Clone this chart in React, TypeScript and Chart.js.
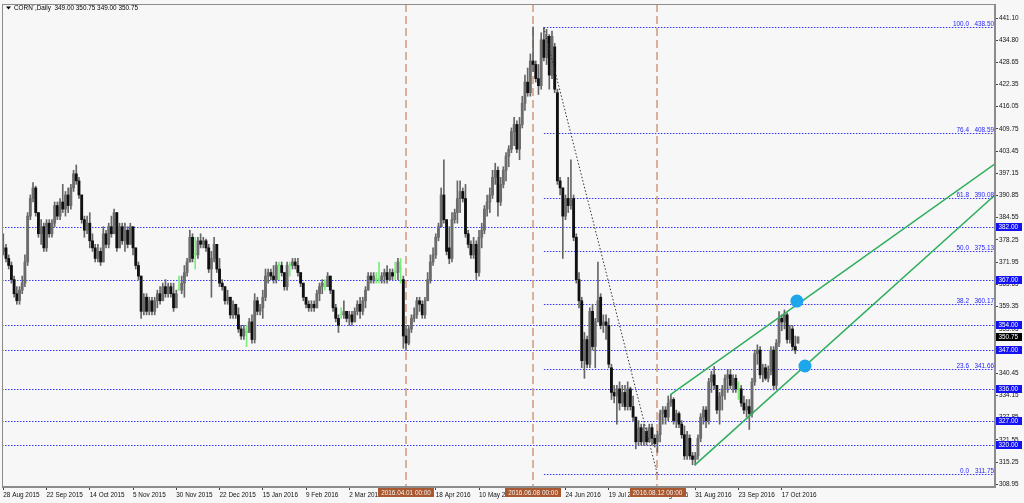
import React, { useEffect, useRef } from 'react';
import { Chart, registerables } from 'chart.js';

Chart.register(...registerables);

// ---------- DATA ----------
const openP = [
  375, 376, 373, 371, 367, 363, 361, 364, 366, 372, 385, 390, 393, 386, 380, 382, 376, 383, 380, 383,
  388, 385, 389, 387, 391, 388, 393, 397, 395, 391, 384, 381, 383, 378, 376, 373, 375, 372, 380, 377,
  382, 380, 386, 376, 382, 378, 381, 377, 382, 376, 371, 368, 358, 362, 358, 361, 358, 361, 363, 361,
  365, 363, 365, 363, 359, 364, 364, 366, 369, 372, 379, 374, 374, 378, 377, 378, 376, 370, 373, 377,
  370, 366, 365, 361, 362, 357, 360, 357, 353, 351, 352, 352, 355, 350, 361, 358, 359, 362, 368, 369,
  368, 367, 371, 371, 369, 365, 371, 371, 372, 371, 369, 366, 362, 360, 359, 360, 359, 363, 365, 365,
  365, 368, 364, 359, 356, 357, 357, 358, 356, 357, 355, 358, 360, 358, 361, 364, 368, 367, 367, 367,
  367, 368, 369, 367, 369, 369, 369, 370, 367, 351, 349, 353, 356, 357, 361, 360, 357, 361, 367, 372,
  374, 379, 382, 391, 384, 376, 373, 384, 386, 390, 392, 390, 380, 377, 374, 377, 369, 379, 381, 387,
  389, 391, 396, 398, 389, 394, 398, 402, 404, 409, 411, 404, 411, 417, 423, 420, 429, 428, 424, 422,
  435, 430, 436, 425, 433, 420, 395, 393, 385, 390, 388, 390, 379, 367, 361, 344, 350, 343, 358, 348,
  355, 362, 354, 355, 354, 342, 335, 334, 336, 332, 335, 331, 336, 331, 328, 321, 325, 321, 324, 321,
  325, 322, 321, 323, 329, 330, 328, 332, 333, 327, 329, 326, 323, 317, 322, 317, 316, 317, 322, 328,
  330, 327, 338, 340, 337, 330, 334, 336, 339, 340, 337, 339, 336, 336, 332, 330, 331, 329, 338, 346,
  347, 340, 342, 339, 341, 347, 337, 349, 356, 355, 357, 350, 353, 348, 349,
];
const highP = [
  380, 377, 374, 372, 368, 365, 365, 368, 374, 386, 391, 394.5, 393.5, 386, 384, 383, 384, 384, 384, 389,
  389, 390, 394, 392, 393, 394, 398, 399.5, 396, 391, 385, 385, 386, 380, 377, 377, 376, 382, 381, 383,
  385, 387, 386, 383, 383, 383, 382, 383, 382, 376, 372, 368, 363, 363, 362, 362, 362, 364, 365, 366,
  367, 366, 366, 366, 364, 368, 368, 371, 373, 381, 380, 379, 379, 380, 379, 378.5, 377, 375, 379, 377,
  373, 367, 365, 364, 362, 361, 360, 359, 354, 354, 354, 356, 357, 363, 362, 360, 364, 370, 370, 370,
  371, 372, 372, 372, 369, 372, 372, 373, 373, 373, 369, 366, 362, 361, 361, 361, 364, 366, 367, 367,
  369, 368, 364, 360, 357, 359, 361, 358, 358, 358, 359, 361, 362, 362, 365, 369, 369, 369, 369, 372,
  369, 370, 371, 370, 370, 372, 373, 373, 368, 354, 354, 357, 359, 362, 362, 361, 362, 369, 374, 376,
  380, 383, 393, 401, 384, 382, 386, 387, 395, 395, 393, 394, 381, 378, 379, 378, 381, 383, 388, 391,
  393, 398, 400, 399, 396, 399, 403, 405, 410, 413, 412, 413, 419, 425, 427, 431, 438.7, 429, 428, 437,
  438.5, 438, 436.5, 437.5, 434, 421, 396, 393, 391, 396, 401, 391, 380, 369, 362, 352, 351, 359, 360, 356,
  372, 363, 357, 357, 356, 343, 337, 337, 338, 337, 337, 338, 336.5, 334, 328, 327, 326, 326, 325, 326,
  326, 323, 324, 330, 331, 331, 334, 334.3, 333.5, 330, 329.5, 327, 325.5, 324, 323, 318, 318, 323, 329, 331,
  331, 339, 341, 342.3, 337, 335, 337, 340, 341.5, 341.5, 340, 340, 338, 337, 334, 333, 333, 339, 347, 348.5,
  348, 343, 343, 342.5, 348, 348, 350, 357.9, 357, 358.4, 357.5, 354, 354, 351, 350.75,
];
const lowP = [
  374, 372, 370, 366, 362, 360, 360, 363, 365, 371, 384, 389, 385, 379, 377, 375, 375, 379, 379, 382,
  384, 384, 386, 385, 386, 387, 392, 394, 390, 383, 379, 380, 376, 375, 372, 372, 371, 372, 376, 376,
  379, 380, 375, 376, 377, 375, 376, 377, 374, 370, 367, 356, 357, 357, 357, 357, 357, 359, 360, 361,
  362, 362, 362, 358, 359, 364, 363, 362, 368, 372, 372, 370, 373, 376, 376, 375, 369, 362, 372, 369,
  365, 364, 360, 360, 356, 356, 356, 352, 350, 350, 348, 352, 349, 349, 357, 357, 356, 361, 366, 367,
  366, 366, 367, 368, 364, 364, 368, 370, 370, 368, 365, 361, 359, 358, 358, 358, 359, 361, 363, 364,
  365, 363, 358, 355, 352, 356, 356, 355, 354, 354, 355, 357, 356, 357, 359, 364, 366, 366, 366, 366,
  366, 366, 366, 367, 367, 367, 367, 366, 347.5, 347, 348.5, 352, 355, 356, 358, 356, 356, 361, 366, 371,
  373, 378, 382, 383, 374, 371.5, 372, 383, 383, 386, 389, 379, 376, 373, 373, 367, 368, 376, 380, 385,
  386, 390, 394, 385, 388, 393, 395, 399, 403, 405, 403, 401, 410, 415, 419, 419, 426, 423, 419.5, 421,
  429, 428, 421, 424, 420, 394, 391, 373, 384, 386, 387, 378, 366, 359, 342, 339, 342, 342, 347, 342,
  355, 353, 352, 350, 342, 333, 332, 326, 330, 331, 330, 330, 330, 327, 319, 320, 320, 320, 320, 321,
  320, 319.5, 318, 321, 326, 326, 327, 331, 326, 325, 325, 322, 316, 316, 316, 314.5, 314.4, 316, 321, 326,
  325, 326, 335, 336, 329, 326, 330, 333, 335, 336, 335, 335, 333, 331, 329, 328, 324.5, 328, 337, 343,
  339, 338, 338.5, 338, 340, 335.7, 336, 348, 352.5, 353, 349, 349, 347, 346, 349,
];
const closeP = [
  376, 373, 371, 367, 363, 361, 364, 366, 372, 385, 390, 393, 386, 380, 382, 376, 383, 380, 383, 388,
  385, 389, 387, 391, 388, 393, 397, 395, 391, 384, 381, 383, 378, 376, 373, 375, 372, 380, 377, 382,
  380, 386, 376, 382, 378, 381, 377, 382, 376, 371, 368, 358, 362, 358, 361, 358, 361, 363, 361, 365,
  363, 365, 363, 359, 363, 364, 366, 369, 372, 379, 373, 374, 378, 377, 378, 376, 370, 373, 377, 370,
  366, 365, 361, 362, 357, 360, 357, 353, 351, 353, 352, 355, 350, 361, 358, 359, 362, 368, 369, 368,
  367, 371, 371, 369, 365, 371, 371, 372, 371, 369, 366, 362, 360, 359, 360, 359, 363, 365, 366, 365,
  368, 364, 359, 356, 354, 357, 358, 356, 357, 355, 358, 360, 358, 361, 364, 368, 367, 368, 367, 367,
  368, 369, 367, 369, 368, 369, 372, 370, 351, 349, 353, 356, 357, 361, 360, 357, 361, 367, 372, 374,
  379, 382, 391, 384, 375, 373, 384, 386, 390, 392, 390, 380, 377, 374, 377, 369, 379, 381, 387, 389,
  391, 396, 398, 389, 394, 398, 402, 404, 409, 411, 404, 411, 417, 423, 420, 429, 428, 424, 422, 435,
  430, 436, 425, 436, 421, 395, 393, 385, 390, 388, 389.5, 379, 367, 361, 344, 350, 343, 358, 348, 355,
  361, 354, 355, 354, 343, 335, 334, 336, 332, 335, 331, 336, 331, 328, 321, 325, 321, 324, 321, 325,
  322, 320.5, 323, 329, 330, 328, 332, 333, 327, 329, 326, 323, 317, 323, 317, 316, 317, 322, 328, 330,
  327, 338, 340, 337, 330, 334, 336, 339, 340, 337, 339, 336, 336, 332, 330, 331, 329, 338, 346, 347,
  340, 342, 339, 341, 347, 337, 349, 356, 355, 357, 350, 353, 348, 347, 350.75,
];

const xTickBars = [0, 16, 32, 48, 64, 80, 96, 112, 128, 144, 160, 176, 192, 208, 224, 240, 256, 272, 288];
const xTickLabels = [
  '28 Aug 2015', '22 Sep 2015', '14 Oct 2015', '5 Nov 2015', '30 Nov 2015', '22 Dec 2015',
  '15 Jan 2016', '9 Feb 2016', '2 Mar 2016', '24 Mar 2016', '18 Apr 2016', '10 May 2016',
  '2 Jun 2016', '24 Jun 2016', '19 Jul 2016', '10 Aug 2016', '31 Aug 2016', '23 Sep 2016', '17 Oct 2016',
];
const yTickValues = [
  441.1, 434.8, 428.65, 422.35, 416.05, 409.75, 403.45, 397.15, 390.85, 384.55, 378.25,
  371.95, 365.65, 359.35, 353.05, 346.75, 340.45, 334.15, 327.85, 321.55, 315.25, 308.95,
];
const levelPrices = [382, 367, 354, 347, 336, 327, 320];
const fibRatios = ['100.0', '76.4', '61.8', '50.0', '38.2', '23.6', '0.0'];
const fibPrices = [438.5, 408.59, 390.08, 375.13, 360.17, 341.66, 311.75];
const fibStartBar = 200;
const fibTrendBars = [200, 242];
const fibTrendPrices = [438.5, 311.75];
const eventBars = [149, 196, 242];
const eventLabels = ['2016.04.01 00:00', '2016.06.08 00:00', '2016.08.12 00:00'];
const upperChannelBars = [246.7, 366.9];
const upperChannelPrices = [334.3, 399.8];
const lowerChannelBars = [255.8, 366.9];
const lowerChannelPrices = [314.4, 391.0];
const markerBars = [293.6, 296.6];
const markerPrices = [360.9, 342.5];
const lastPrice = 350.75;
const titleText = "CORN`,Daily  349.00 350.75 349.00 350.75";

const X_MIN = -0.48;
const X_MAX = 366.9;
const Y_MIN = 308.18;
const Y_MAX = 445.16;

// ---------- STYLE ----------
const FONT = "'Liberation Sans', Arial, sans-serif";
const FS = 6.4;
const BG = '#f7f7f7';
const BULL = '#6c6c6c';
const BEAR = '#101010';
const WICK = '#666666';
const DOJI = '#78ee78';
const LEVEL_BLUE = '#3434ff';
const EVENT_COLOR = 'rgba(205,145,120,0.95)';
const EVENT_BOX = '#a9582f';
const GREEN_LINE = '#2eae5c';
const MARKER = '#1ea6ea';

export default function App() {
  const ref = useRef<HTMLCanvasElement | null>(null);

  useEffect(() => {
    const canvas = ref.current;
    if (!canvas) return;
    const n = closeP.length;
    const idx = Array.from({ length: n }, (_, i) => i);
    const isDoji = (i: number) => openP[i] === closeP[i];

    const wickData = idx.map((i) => ({ x: i, y: [lowP[i], highP[i]] }));
    const bodyData = idx.map((i) => ({ x: i, y: [openP[i], closeP[i]] }));
    const wickColors = idx.map((i) => (isDoji(i) ? DOJI : WICK));
    const bodyColors = idx.map((i) => (isDoji(i) ? DOJI : closeP[i] > openP[i] ? BULL : BEAR));

    const lineBase = {
      type: 'line' as const,
      pointRadius: 0,
      fill: false,
      tension: 0,
    };

    const datasets: any[] = [];
    datasets.push({
      type: 'bar',
      data: wickData,
      backgroundColor: wickColors,
      barThickness: 1,
      grouped: false,
      order: 5,
    });
    datasets.push({
      type: 'bar',
      data: bodyData,
      backgroundColor: bodyColors,
      barThickness: 2.2,
      minBarLength: 1,
      grouped: false,
      order: 4,
    });
    datasets.push({
      ...lineBase,
      data: fibTrendBars.map((b, i) => ({ x: b, y: fibTrendPrices[i] })),
      borderColor: '#333',
      borderWidth: 1,
      borderDash: [1.5, 2],
      order: 3,
    });
    datasets.push({
      ...lineBase,
      data: upperChannelBars.map((b, i) => ({ x: b, y: upperChannelPrices[i] })),
      borderColor: GREEN_LINE,
      borderWidth: 1.5,
      order: 2,
    });
    datasets.push({
      ...lineBase,
      data: lowerChannelBars.map((b, i) => ({ x: b, y: lowerChannelPrices[i] })),
      borderColor: GREEN_LINE,
      borderWidth: 1.5,
      order: 2,
    });
    datasets.push({
      type: 'scatter',
      data: markerBars.map((b, i) => ({ x: b, y: markerPrices[i] })),
      backgroundColor: MARKER,
      borderColor: MARKER,
      pointRadius: 6.5,
      borderWidth: 0,
      showLine: false,
      order: 1,
    });

    const overlay = {
      id: 'mt4overlay',
      beforeDraw(chart: any) {
        const { ctx } = chart;
        ctx.save();
        ctx.fillStyle = BG;
        ctx.fillRect(0, 0, chart.width, chart.height);
        ctx.restore();
      },
      beforeDatasetsDraw(chart: any) {
        const { ctx, chartArea } = chart;
        const xs = chart.scales.x;
        const ys = chart.scales.y;
        ctx.save();
        ctx.beginPath();
        ctx.rect(chartArea.left, chartArea.top, chartArea.right - chartArea.left, chartArea.bottom - chartArea.top);
        ctx.clip();
        // horizontal support / resistance levels (pixel-snapped)
        ctx.strokeStyle = LEVEL_BLUE;
        ctx.lineWidth = 1;
        ctx.setLineDash([1.5, 1.5]);
        levelPrices.forEach((p) => {
          const yy = Math.round(ys.getPixelForValue(p)) + 0.5;
          ctx.beginPath();
          ctx.moveTo(xs.getPixelForValue(X_MIN), yy);
          ctx.lineTo(xs.getPixelForValue(X_MAX), yy);
          ctx.stroke();
        });
        fibPrices.forEach((p) => {
          const yy = Math.round(ys.getPixelForValue(p)) + 0.5;
          ctx.beginPath();
          ctx.moveTo(xs.getPixelForValue(fibStartBar), yy);
          ctx.lineTo(xs.getPixelForValue(X_MAX), yy);
          ctx.stroke();
        });
        // vertical event lines
        ctx.strokeStyle = EVENT_COLOR;
        ctx.lineWidth = 1.5;
        ctx.setLineDash([8, 4]);
        eventBars.forEach((b) => {
          const xx = Math.round(xs.getPixelForValue(b));
          ctx.beginPath();
          ctx.moveTo(xx, ys.getPixelForValue(Y_MAX));
          ctx.lineTo(xx, ys.getPixelForValue(Y_MIN));
          ctx.stroke();
        });
        ctx.restore();
      },
      afterDraw(chart: any) {
        const { ctx, chartArea } = chart;
        const xs = chart.scales.x;
        const ys = chart.scales.y;
        ctx.save();
        // frame
        ctx.strokeStyle = '#8c8c8c';
        ctx.lineWidth = 1;
        ctx.strokeRect(chartArea.left + 0.5, chartArea.top + 0.5, chartArea.right - chartArea.left - 1, chartArea.bottom - chartArea.top - 1);

        ctx.font = `${FS}px ${FONT}`;
        ctx.textBaseline = 'alphabetic';
        // fib labels
        fibPrices.forEach((p, i) => {
          const yy = Math.round(ys.getPixelForValue(p)) - 1;
          ctx.fillStyle = '#2626ff';
          ctx.textAlign = 'right';
          ctx.fillText(fibRatios[i], 969, yy);
          ctx.fillText(p.toFixed(2), 994, yy);
        });

        // axis level boxes
        ctx.textAlign = 'left';
        ctx.textBaseline = 'middle';
        levelPrices.forEach((p) => {
          const yy = Math.round(ys.getPixelForValue(p));
          ctx.fillStyle = '#1212f2';
          ctx.fillRect(996, yy - 4, 26, 8);
          ctx.fillStyle = '#ffffff';
          ctx.fillText(p.toFixed(2), 998.5, yy + 0.5);
        });
        {
          const yy = Math.round(ys.getPixelForValue(lastPrice));
          ctx.fillStyle = '#000000';
          ctx.fillRect(996, yy - 4, 26, 8);
          ctx.fillStyle = '#ffffff';
          ctx.fillText(lastPrice.toFixed(2), 998.5, yy + 0.5);
        }

        // event boxes on the time axis
        ctx.textAlign = 'center';
        eventBars.forEach((b, i) => {
          const xx = xs.getPixelForValue(b);
          const w = ctx.measureText(eventLabels[i]).width + 6;
          ctx.fillStyle = EVENT_BOX;
          ctx.fillRect(Math.round(xx - w / 2), 488, Math.round(w), 9);
          ctx.fillStyle = '#f4f4f4';
          ctx.fillText(eventLabels[i], xx, 493);
        });

        // title
        ctx.fillStyle = '#000';
        ctx.beginPath();
        ctx.moveTo(6, 6.5);
        ctx.lineTo(11, 6.5);
        ctx.lineTo(8.5, 9.5);
        ctx.closePath();
        ctx.fill();
        ctx.textAlign = 'left';
        ctx.fillText(titleText, 14, 8.5);
        ctx.restore();
      },
    };

    const chart = new Chart(canvas, {
      type: 'bar',
      data: { datasets },
      options: {
        animation: false,
        responsive: false,
        maintainAspectRatio: false,
        devicePixelRatio: 1,
        events: [],
        layout: { autoPadding: false, padding: { left: 2, top: 4, right: 0, bottom: 0 } },
        plugins: {
          legend: { display: false },
          tooltip: { enabled: false },
          title: { display: false },
        },
        scales: {
          x: {
            type: 'linear',
            min: X_MIN,
            max: X_MAX,
            offset: false,
            grid: { display: true, drawOnChartArea: false, drawTicks: true, tickLength: 3, color: '#444', offset: false },
            border: { display: true, color: '#8c8c8c' },
            ticks: {
              autoSkip: false,
              maxRotation: 0,
              minRotation: 0,
              align: 'start',
              padding: 1,
              color: '#111',
              font: { size: FS, family: FONT },
              callback: (_v: any, i: number) => xTickLabels[i] ?? '',
            },
            afterBuildTicks: (axis: any) => {
              axis.ticks = xTickBars.map((v) => ({ value: v }));
            },
            afterFit: (axis: any) => {
              axis.height = 16;
              axis.paddingLeft = 0;
              axis.paddingRight = 0;
            },
          },
          y: {
            type: 'linear',
            position: 'right',
            min: Y_MIN,
            max: Y_MAX,
            grid: { display: true, drawOnChartArea: false, drawTicks: true, tickLength: 3, color: '#444' },
            border: { display: true, color: '#8c8c8c' },
            ticks: {
              autoSkip: false,
              padding: 1,
              color: '#111',
              font: { size: FS, family: FONT },
              callback: (v: any) => Number(v).toFixed(2),
            },
            afterBuildTicks: (axis: any) => {
              axis.ticks = yTickValues.map((v) => ({ value: v }));
            },
            afterFit: (axis: any) => {
              axis.width = 29;
              axis.paddingTop = 0;
              axis.paddingBottom = 0;
            },
          },
        },
      } as any,
      plugins: [overlay],
    });
    return () => chart.destroy();
  }, []);

  return (
    <div style={{ position: 'fixed', left: 0, top: 0, width: 1024, height: 503, background: BG }}>
      <canvas ref={ref} width={1024} height={503} style={{ display: 'block', width: 1024, height: 503 }} />
    </div>
  );
}
